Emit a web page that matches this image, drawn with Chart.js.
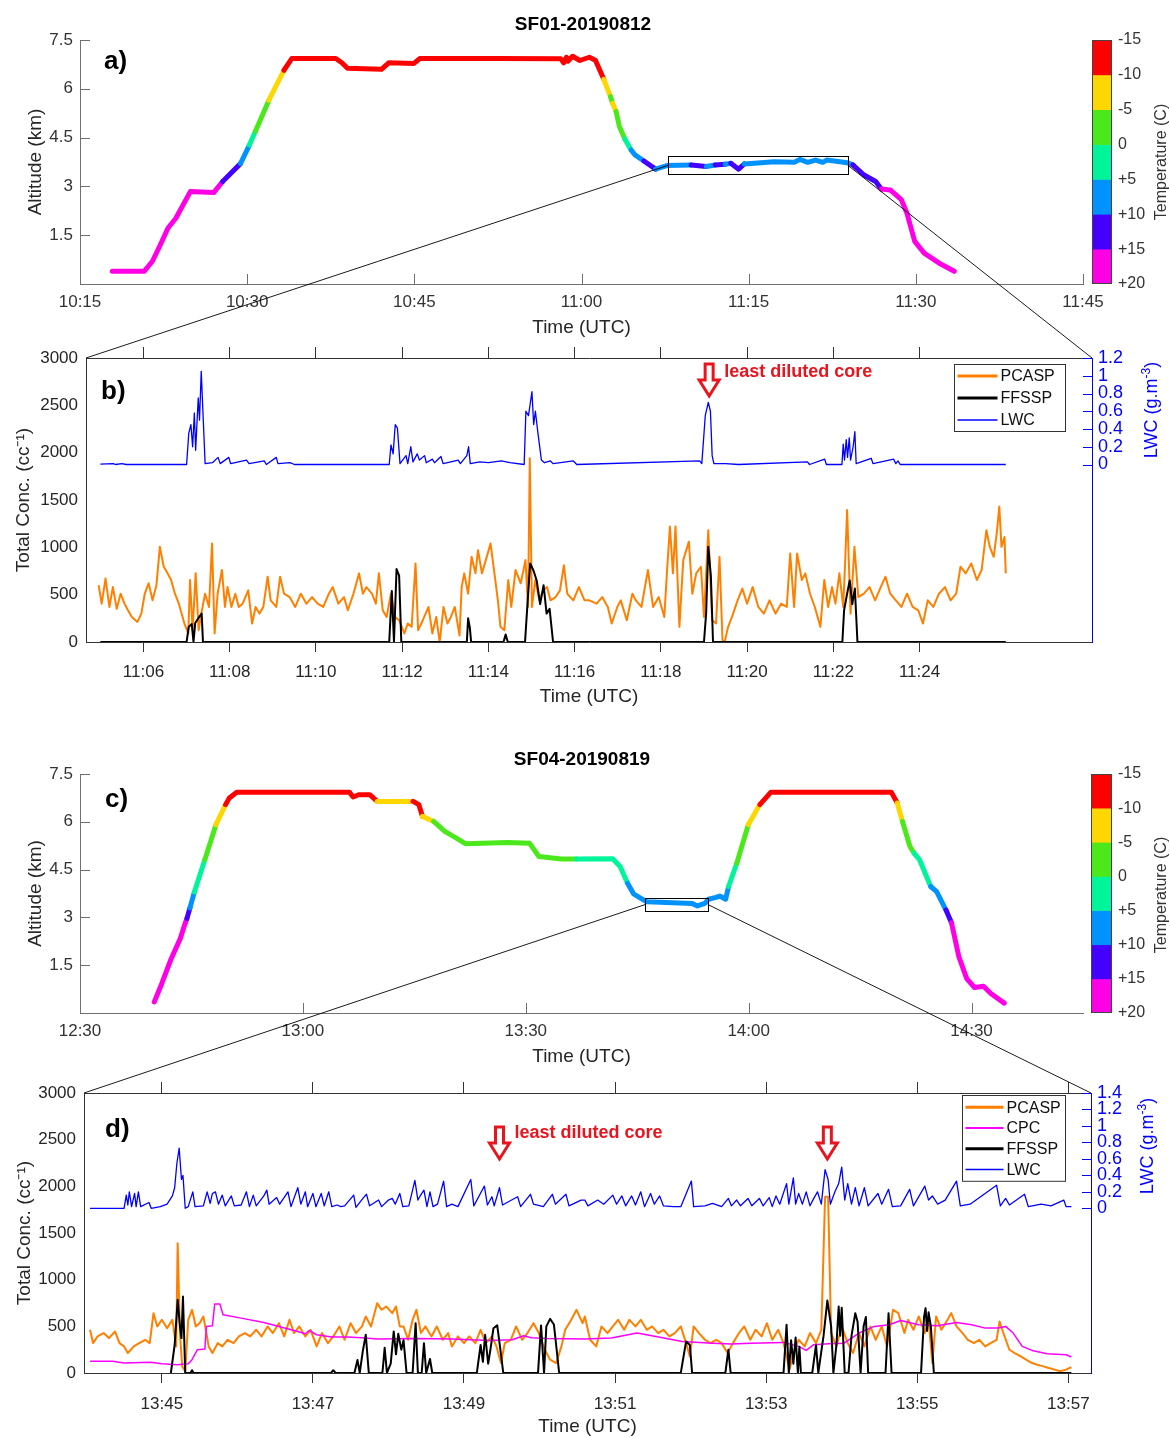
<!DOCTYPE html>
<html>
<head>
<meta charset="utf-8">
<script src="https://cdn.jsdelivr.net/npm/chart.js@4.4.1/dist/chart.umd.min.js"></script>
<style>
body { margin:0; background:#fff; width:1170px; height:1438px; position:relative; overflow:hidden; font-family:"Liberation Sans", Arial, sans-serif; }
canvas { position:absolute; }
.t { position:absolute; white-space:nowrap; transform:translate(-50%,-50%); }
.lbl { position:absolute; white-space:nowrap; font-weight:bold; font-size:26px; line-height:26px; color:#000; }
.rot { position:absolute; white-space:nowrap; transform:translate(-50%,-50%) rotate(-90deg); }
</style>
</head>
<body>
<canvas id="ca"></canvas>
<canvas id="cbA"></canvas>
<canvas id="cb"></canvas>
<canvas id="cc"></canvas>
<canvas id="cbC"></canvas>
<canvas id="cd"></canvas>
<canvas id="ov" width="1170" height="1438" style="left:0;top:0;pointer-events:none"></canvas>

<div class="t" style="left:583px;top:24px;font-weight:bold;font-size:19px">SF01-20190812</div>
<div class="t" style="left:582px;top:759px;font-weight:bold;font-size:19px">SF04-20190819</div>
<div class="lbl" style="left:104px;top:47px">a)</div>
<div class="lbl" style="left:101px;top:377px">b)</div>
<div class="lbl" style="left:105px;top:785px">c)</div>
<div class="lbl" style="left:105px;top:1115px">d)</div>
<div class="rot" style="left:1161px;top:162px;font-size:16px;color:#333">Temperature (C)</div>
<div class="rot" style="left:1161px;top:895px;font-size:16px;color:#333">Temperature (C)</div>
<div class="rot" style="left:1150px;top:410px;font-size:18px;color:#0000ff">LWC (g.m<sup style="font-size:12px">-3</sup>)</div>
<div class="rot" style="left:1146px;top:1146px;font-size:18px;color:#0000ff">LWC (g.m<sup style="font-size:12px">-3</sup>)</div>

<script>
// ---- data ----
// altitude profiles: [minutes after base hour, altitude km, temperature C]
const aProfile = [[17.9,0.39,19],[20.75,0.39,19],[21.5,0.70,19],[22.2,1.2,18],[22.9,1.72,18],[23.6,2.02,17],[24.9,2.84,16],[27.0,2.81,16],
  [27.8,3.15,12],[29.4,3.7,8],[30.2,4.27,3],[30.75,4.7,-2],[31.95,5.65,-7],[33.3,6.57,-12],
  [34.0,6.93,-13],[37.95,6.93,-13],[38.5,6.8,-13],[39.0,6.63,-13],[42.05,6.6,-13],[42.7,6.8,-13],[44.97,6.78,-13],[45.5,6.93,-13],
  [52.3,6.93,-13],[58.15,6.92,-13],[58.4,6.8,-13],[58.65,6.97,-13],[58.8,6.85,-13],[59.2,7.0,-13],[59.85,6.87,-13],[60.7,6.97,-13],
  [61.25,6.88,-12],[62.0,6.29,-8],[62.6,5.76,-3],[62.8,5.55,-6],[63.1,5.3,-2],[63.4,4.84,-1],[63.9,4.45,3],[64.45,4.12,7],[64.8,3.97,7],
  [65.6,3.78,12],[66.65,3.53,8],[67.65,3.64,8],[69.85,3.66,11],[71.2,3.61,8],[72.0,3.66,11],[72.9,3.68,8],[73.4,3.71,11],[74.1,3.53,11],
  [74.6,3.69,8],[77.3,3.76,8],[79.1,3.74,8],[79.6,3.83,8],[80.3,3.74,8],[81.0,3.81,8],[81.65,3.74,8],[82.0,3.81,8],[83.85,3.73,8],
  [84.35,3.66,12],[85.35,3.35,12],[86.4,3.15,12],[86.9,2.92,16],[87.7,2.89,16],[88.7,2.59,17],[89.2,2.18,17],[89.9,1.31,18],
  [90.75,0.95,19],[92.1,0.64,19],[93.45,0.39,19]];
const cProfile = [[40.0,0.35,19],[41.0,0.92,19],[42.2,1.66,18],[43.5,2.34,17],[44.0,2.71,16],[44.4,2.97,12],[44.8,3.3,8],[45.4,3.8,3],
  [46.8,4.81,-2],[48.3,5.91,-7],[49.6,6.54,-12],[50.1,6.75,-12],[51.1,6.93,-13],[66.25,6.93,-13],[66.76,6.78,-13],[67.5,6.85,-13],
  [69.0,6.85,-12],[70.0,6.64,-8],[74.84,6.64,-11],[75.6,6.54,-11],[76.1,6.17,-7],[77.6,6.01,-3],[79.1,5.70,-2],[80.66,5.49,-2],
  [81.92,5.31,-2],[87.5,5.35,-2],[90.5,5.33,-2],[91.76,4.91,-2],[94.8,4.83,-1],[96.8,4.83,2],[101.7,4.84,2],[102.7,4.6,4],
  [103.7,4.07,7],[104.5,3.74,8],[105.5,3.6,8],[106.3,3.49,8],[109.8,3.46,8],[112.35,3.44,8],[113.1,3.36,8],[114.1,3.44,8],
  [114.6,3.57,8],[115.6,3.63,8],[116.1,3.67,8],[116.9,3.57,8],[117.3,3.97,3],[118.4,4.7,-2],[119.95,5.91,-7],[121.5,6.54,-12],
  [123.0,6.93,-13],[139.2,6.93,-12],[140.0,6.59,-7],[140.7,6.01,-3],[141.7,5.23,-1],[142.25,5.02,2],[143.0,4.81,4],[144.5,3.97,7],
  [145.3,3.81,9],[146.56,3.23,12],[147.3,2.83,16],[148.3,1.76,17],[149.35,1.08,18],[150.4,0.8,19],[151.6,0.84,19],[152.6,0.61,19],[154.4,0.31,19]];
// zoom boxes [t0, t1, alt0, alt1]
const aZoom = [67.8, 83.9, 3.38, 3.92];
const cZoom = [106.1, 114.5, 3.21, 3.6];

// panel b: minutes after 11:00
const bPCASP = [[4.96,600],[5.03,405],[5.12,670],[5.21,370],[5.29,580],[5.38,350],[5.47,510],[5.56,405],[5.64,335],[5.73,265],[5.86,212],[5.95,300],
  [6.03,510],[6.12,620],[6.21,440],[6.30,600],[6.38,1005],[6.47,795],[6.56,725],[6.64,655],[6.73,510],[6.82,405],[6.95,195],[7.04,90],[7.08,655],
  [7.14,125],[7.21,725],[7.28,125],[7.34,300],[7.43,510],[7.52,370],[7.59,1040],[7.65,90],[7.72,510],[7.82,760],[7.89,370],[7.95,580],[8.04,370],
  [8.13,510],[8.21,370],[8.30,405],[8.43,545],[8.52,195],[8.60,370],[8.69,300],[8.78,370],[8.88,690],[8.95,440],[9.08,370],[9.17,690],[9.26,510],
  [9.39,475],[9.52,370],[9.65,510],[9.78,405],[9.91,475],[10.04,405],[10.17,370],[10.30,510],[10.39,580],[10.52,405],[10.65,475],[10.74,335],
  [10.87,510],[11.00,725],[11.09,510],[11.17,580],[11.30,510],[11.39,405],[11.46,725],[11.55,335],[11.64,265],[11.74,510],[11.83,265],[11.93,230],
  [12.05,90],[12.13,195],[12.22,160],[12.31,830],[12.37,125],[12.48,230],[12.61,370],[12.70,90],[12.79,265],[12.87,0],[12.96,370],[13.05,195],
  [13.13,265],[13.22,370],[13.33,70],[13.38,580],[13.44,725],[13.53,510],[13.61,900],[13.70,725],[13.76,970],[13.85,725],[13.94,865],[14.05,1040],
  [14.14,725],[14.22,440],[14.28,160],[14.37,125],[14.46,655],[14.53,370],[14.63,760],[14.75,620],[14.86,865],[14.92,370],[14.96,1940],[15.01,370],
  [15.09,655],[15.18,440],[15.27,545],[15.36,580],[15.44,440],[15.56,475],[15.66,545],[15.75,810],[15.83,510],[15.97,440],[16.10,580],[16.23,440],
  [16.34,440],[16.51,405],[16.64,475],[16.77,370],[16.86,195],[16.99,370],[17.07,440],[17.21,230],[17.34,510],[17.42,440],[17.55,370],[17.70,760],
  [17.82,370],[17.95,475],[18.08,265],[18.14,725],[18.21,1220],[18.28,725],[18.34,1220],[18.43,160],[18.52,865],[18.65,1060],[18.73,510],[18.82,725],
  [18.93,795],[19.00,265],[19.10,1180],[19.19,230],[19.28,195],[19.36,900],[19.43,20],[19.48,0],[19.56,160],[19.65,265],[19.78,440],[19.89,565],
  [20.00,405],[20.13,580],[20.26,370],[20.39,300],[20.52,440],[20.66,300],[20.79,405],[20.92,370],[21.00,935],[21.09,370],[21.16,935],[21.27,655],
  [21.35,725],[21.46,510],[21.57,370],[21.70,160],[21.79,655],[21.88,370],[21.97,580],[22.05,405],[22.14,725],[22.23,370],[22.27,795],[22.32,1395],
  [22.40,300],[22.49,1005],[22.58,475],[22.71,510],[22.84,580],[22.97,440],[23.10,580],[23.21,690],[23.32,510],[23.45,440],[23.58,370],[23.71,510],
  [23.84,370],[23.97,335],[24.08,195],[24.19,440],[24.32,370],[24.45,510],[24.59,580],[24.72,440],[24.85,510],[24.95,795],[25.07,725],[25.20,830],
  [25.33,655],[25.44,760],[25.55,1180],[25.63,1005],[25.72,900],[25.79,1145],[25.85,1430],[25.90,1005],[25.97,1110],[26.00,725]];
const bFFSSP = [[5.0,0],[7.0,0],[7.05,160],[7.12,190],[7.16,0],[7.2,200],[7.3,270],[7.35,300],[7.38,0],[11.7,0],[11.76,540],[11.81,0],
  [11.87,770],[11.93,700],[11.98,0],[13.5,0],[13.53,250],[13.57,150],[13.6,0],[14.35,0],[14.4,80],[14.45,0],[14.85,0],[14.92,500],[14.97,830],
  [15.05,750],[15.12,650],[15.2,400],[15.28,600],[15.35,300],[15.42,350],[15.5,0],[19.0,0],[19.05,300],[19.1,1005],[19.16,700],[19.21,0],
  [22.21,0],[22.25,335],[22.32,510],[22.38,650],[22.44,400],[22.5,565],[22.56,0],[26.0,0]];
const bLWC = [[5.0,0.005],[5.3,0.01],[5.35,0.0],[5.5,0.01],[5.6,0.0],[6.8,0.0],[7.0,0.0],[7.05,0.35],[7.1,0.45],[7.14,0.2],[7.18,0.58],
  [7.21,0.16],[7.27,0.75],[7.3,0.5],[7.34,1.05],[7.38,0.58],[7.43,0.01],[7.6,0.02],[7.73,0.08],[7.78,0.01],[7.98,0.08],[8.02,0.01],[8.39,0.05],
  [8.45,0.01],[8.8,0.04],[8.85,0.0],[9.08,0.08],[9.12,0.01],[9.4,0.02],[9.5,0.0],[11.7,0.0],[11.74,0.22],[11.79,0.12],[11.84,0.45],[11.89,0.41],
  [11.95,0.01],[12.09,0.1],[12.13,0.01],[12.2,0.2],[12.25,0.03],[12.35,0.12],[12.4,0.05],[12.52,0.1],[12.56,0.02],[12.7,0.06],[12.75,0.02],
  [12.9,0.09],[12.95,0.01],[13.13,0.03],[13.3,0.05],[13.35,0.01],[13.5,0.1],[13.54,0.2],[13.58,0.01],[13.8,0.03],[14.0,0.02],[14.3,0.04],
  [14.5,0.02],[14.83,0.0],[14.87,0.6],[14.93,0.55],[15.01,0.82],[15.05,0.45],[15.09,0.6],[15.15,0.35],[15.23,0.05],[15.3,0.02],[15.44,0.04],
  [15.5,0.01],[15.8,0.03],[15.97,0.04],[16.05,0.0],[18.9,0.04],[18.95,0.01],[19.03,0.55],[19.1,0.7],[19.15,0.6],[19.19,0.1],[19.23,0.01],
  [19.5,0.01],[19.8,0.0],[21.4,0.03],[21.45,0.0],[21.8,0.06],[21.84,0.0],[22.2,0.0],[22.23,0.23],[22.26,0.05],[22.3,0.28],[22.33,0.08],
  [22.37,0.3],[22.4,0.05],[22.46,0.2],[22.5,0.37],[22.53,0.01],[22.88,0.07],[22.92,0.01],[23.4,0.06],[23.45,0.01],[23.5,0.04],[23.55,0.0],[26.0,0.0]];

// panel d: minutes after 13:00
const dPCASP = [[44.05,463],[44.09,320],[44.15,392],[44.23,428],[44.30,374],[44.38,445],[44.44,320],[44.50,285],[44.55,214],[44.63,285],
  [44.70,320],[44.78,356],[44.84,320],[44.89,641],[44.94,499],[45.00,570],[45.07,481],[45.14,570],[45.19,285],[45.21,1390],[45.24,428],[45.27,71],
  [45.31,18],[45.35,570],[45.40,677],[45.45,499],[45.50,534],[45.55,606],[45.59,428],[45.62,285],[45.67,214],[45.74,320],[45.80,285],[45.87,356],
  [45.95,320],[46.02,392],[46.10,428],[46.17,392],[46.25,463],[46.32,392],[46.40,499],[46.47,428],[46.55,534],[46.62,392],[46.69,570],[46.75,428],
  [46.82,499],[46.90,392],[46.97,463],[47.05,285],[47.12,428],[47.20,320],[47.27,392],[47.35,499],[47.42,356],[47.50,534],[47.57,428],[47.65,499],
  [47.70,606],[47.77,499],[47.85,748],[47.91,677],[47.97,713],[48.05,641],[48.10,713],[48.15,499],[48.20,499],[48.26,356],[48.32,570],[48.37,677],
  [48.43,428],[48.49,499],[48.57,392],[48.64,499],[48.72,356],[48.79,428],[48.84,285],[48.92,392],[49.00,320],[49.07,392],[49.15,320],[49.22,463],
  [49.29,320],[49.37,392],[49.43,285],[49.49,107],[49.54,320],[49.62,356],[49.69,499],[49.77,356],[49.84,428],[49.92,534],[49.99,428],[50.07,249],
  [50.14,143],[50.22,107],[50.29,285],[50.34,463],[50.42,570],[50.49,677],[50.57,534],[50.60,606],[50.67,356],[50.75,285],[50.82,499],[50.90,428],
  [50.97,499],[51.04,570],[51.12,463],[51.19,570],[51.27,499],[51.34,570],[51.42,463],[51.49,499],[51.57,428],[51.64,463],[51.72,392],[51.79,428],
  [51.87,499],[51.94,320],[51.99,178],[52.04,499],[52.11,428],[52.19,356],[52.26,320],[52.34,356],[52.41,320],[52.49,214],[52.56,320],[52.64,428],
  [52.71,499],[52.79,356],[52.86,463],[52.94,392],[53.01,534],[53.08,356],[53.16,463],[53.23,320],[53.31,36],[53.36,214],[53.43,356],[53.51,285],
  [53.58,428],[53.66,320],[53.73,463],[53.78,1888],[53.82,1888],[53.86,428],[53.93,285],[54.00,499],[54.08,320],[54.15,214],[54.23,428],[54.30,285],
  [54.38,499],[54.45,356],[54.53,499],[54.60,285],[54.68,677],[54.75,641],[54.83,428],[54.88,570],[54.95,463],[55.02,606],[55.10,428],[55.15,570],
  [55.20,107],[55.25,606],[55.32,463],[55.40,570],[55.45,641],[55.52,499],[55.60,428],[55.67,356],[55.75,320],[55.82,356],[55.90,285],[55.97,320],
  [56.05,356],[56.09,552],[56.14,428],[56.22,249],[56.29,214],[56.37,178],[56.44,143],[56.52,107],[56.59,89],[56.67,71],[56.74,53],[56.82,36],
  [56.89,18],[56.97,36],[57.04,64]];
const dCPC = [[44.05,125],[44.35,125],[44.5,107],[44.85,114],[45.0,100],[45.2,89],[45.35,100],[45.4,143],[45.47,249],[45.57,256],[45.59,499],
  [45.67,506],[45.70,738],[45.77,738],[45.81,624],[46.05,588],[46.35,542],[46.55,499],[46.8,445],[46.9,420],[46.95,456],[47.05,410],[47.25,385],
  [47.45,385],[47.65,378],[47.85,363],[48.35,370],[48.84,363],[49.34,349],[49.64,356],[49.79,399],[49.89,378],[50.1,370],[50.6,363],[50.95,374],
  [51.29,428],[51.54,392],[51.89,338],[52.29,320],[52.54,310],[52.79,320],[53.23,328],[53.43,285],[53.53,242],[53.63,303],[53.83,313],[54.03,320],
  [54.23,428],[54.43,499],[54.63,517],[54.78,563],[55.02,517],[55.27,506],[55.52,542],[55.72,517],[55.9,481],[56.07,481],[56.17,499],[56.27,428],
  [56.39,285],[56.52,242],[56.72,207],[56.97,196],[57.04,171]];
const dFFSSP = [[45.12,0],[45.17,300],[45.21,784],[45.24,500],[45.26,374],[45.28,820],[45.31,0],[45.38,0],[45.4,30],[45.42,0],[47.24,0],[47.27,30],[47.3,0],
  [47.55,0],[47.59,140],[47.62,0],[47.66,231],[47.70,410],[47.74,0],[47.92,0],[47.95,270],[47.98,0],[48.03,100],[48.07,445],[48.10,200],
  [48.13,420],[48.17,250],[48.20,350],[48.24,0],[48.32,0],[48.36,534],[48.39,0],[48.44,0],[48.47,320],[48.50,0],[48.55,150],[48.58,0],
  [49.17,0],[49.22,300],[49.25,120],[49.28,410],[49.32,100],[49.35,250],[49.39,480],[49.44,510],[49.49,200],[49.52,0],[49.98,0],[50.02,510],
  [50.06,0],[50.09,500],[50.14,580],[50.19,520],[50.22,300],[50.26,0],[51.87,0],[51.94,338],[51.99,300],[52.02,0],[52.46,0],[52.50,250],
  [52.53,0],[53.23,0],[53.27,517],[53.30,0],[53.33,350],[53.36,100],[53.39,380],[53.42,0],[53.44,280],[53.46,0],[53.61,0],[53.66,300],
  [53.69,0],[53.76,400],[53.81,777],[53.86,500],[53.89,0],[53.93,300],[53.96,713],[53.98,400],[54.0,700],[54.04,0],[54.09,0],[54.13,400],
  [54.18,640],[54.21,550],[54.25,0],[54.29,500],[54.32,600],[54.35,0],[54.58,0],[54.62,640],[54.66,0],[55.05,0],[55.09,600],[55.11,695],
  [55.13,450],[55.15,650],[55.18,500],[55.22,0],[57.04,0]];
const dLWC = [[44.05,0],[44.5,0],[44.53,0.16],[44.55,0.04],[44.57,0.2],[44.6,0.02],[44.64,0.18],[44.66,0.02],[44.69,0.2],[44.72,0.02],
  [44.83,0.07],[44.86,0.0],[44.98,0.02],[45.07,0.05],[45.14,0.15],[45.17,0.25],[45.20,0.55],[45.23,0.73],[45.26,0.35],[45.28,0.4],[45.31,0.0],
  [45.35,0.02],[45.41,0.2],[45.44,0.02],[45.55,0.03],[45.60,0.2],[45.64,0.06],[45.67,0.18],[45.71,0.2],[45.75,0.05],[45.80,0.16],[45.84,0.03],
  [45.92,0.15],[45.96,0.03],[46.05,0.04],[46.12,0.2],[46.16,0.02],[46.21,0.16],[46.25,0.03],[46.35,0.15],[46.39,0.22],[46.42,0.05],[46.52,0.13],
  [46.56,0.05],[46.67,0.2],[46.71,0.02],[46.80,0.25],[46.84,0.05],[46.90,0.2],[46.93,0.02],[47.0,0.18],[47.04,0.02],[47.11,0.18],[47.15,0.03],
  [47.21,0.2],[47.25,0.02],[47.32,0.04],[47.37,0.02],[47.42,0.03],[47.54,0.16],[47.57,0.01],[47.67,0.13],[47.71,0.17],[47.75,0.03],[47.87,0.1],
  [47.91,0.02],[48.0,0.1],[48.05,0.12],[48.09,0.05],[48.15,0.18],[48.19,0.02],[48.27,0.03],[48.35,0.34],[48.39,0.1],[48.42,0.15],[48.47,0.22],
  [48.51,0.02],[48.55,0.2],[48.59,0.02],[48.65,0.05],[48.73,0.33],[48.77,0.02],[48.84,0.05],[48.92,0.02],[49.09,0.35],[49.13,0.03],[49.27,0.27],
  [49.31,0.04],[49.37,0.14],[49.40,0.03],[49.47,0.25],[49.51,0.04],[49.57,0.07],[49.71,0.14],[49.75,0.02],[49.88,0.17],[49.92,0.05],[50.05,0.02],
  [50.17,0.17],[50.21,0.05],[50.35,0.17],[50.39,0.03],[50.55,0.1],[50.60,0.1],[50.64,0.03],[50.77,0.1],[50.85,0.05],[50.97,0.16],[51.02,0.05],
  [51.09,0.15],[51.14,0.03],[51.22,0.15],[51.27,0.04],[51.34,0.2],[51.39,0.02],[51.47,0.18],[51.52,0.05],[51.59,0.15],[51.64,0.03],[51.77,0.02],
  [51.87,0.02],[52.01,0.33],[52.04,0.02],[52.19,0.03],[52.29,0.06],[52.41,0.02],[52.50,0.12],[52.54,0.03],[52.61,0.1],[52.66,0.03],[52.76,0.12],
  [52.81,0.03],[52.91,0.12],[52.96,0.03],[53.04,0.13],[53.08,0.02],[53.13,0.15],[53.18,0.05],[53.27,0.3],[53.30,0.05],[53.36,0.37],[53.39,0.05],
  [53.43,0.18],[53.48,0.05],[53.53,0.2],[53.58,0.03],[53.63,0.12],[53.68,0.2],[53.73,0.05],[53.78,0.47],[53.82,0.35],[53.85,0.05],[53.91,0.2],
  [53.96,0.3],[54.0,0.5],[54.04,0.1],[54.08,0.3],[54.13,0.05],[54.18,0.25],[54.23,0.03],[54.30,0.25],[54.35,0.03],[54.48,0.18],[54.53,0.05],
  [54.62,0.23],[54.67,0.02],[54.78,0.03],[54.90,0.23],[54.95,0.03],[55.10,0.27],[55.15,0.1],[55.20,0.15],[55.27,0.05],[55.37,0.1],[55.52,0.33],
  [55.57,0.03],[55.70,0.05],[56.05,0.28],[56.10,0.03],[56.17,0.12],[56.22,0.04],[56.42,0.17],[56.47,0.02],[56.64,0.05],[56.77,0.03],[56.94,0.1],
  [56.97,0.02],[57.04,0.02]];

// annotation times (least diluted core)
const bCore = [19.12];
const dCore = [49.47, 53.81];

// ticks
const aTicks = [15, 30, 45, 60, 75, 90, 105];
const cTicks = [30, 60, 90, 120, 150];
const bTicks = [6, 8, 10, 12, 14, 16, 18, 20, 22, 24];
const dTicks = [45, 47, 49, 51, 53, 55, 57];
const altTicks = [1.5, 3, 4.5, 6, 7.5];
const concTicks = [0, 500, 1000, 1500, 2000, 2500, 3000];
const lwcTicksB = [0, 0.2, 0.4, 0.6, 0.8, 1, 1.2];
const lwcTicksD = [0, 0.2, 0.4, 0.6, 0.8, 1, 1.2, 1.4];
const tempEdges = [-15, -10, -5, 0, 5, 10, 15];
const tempTicks = [-15, -10, -5, 0, 5, 10, 15, 20];
const tempColors = ['#ff0000', '#ffd700', '#4be81c', '#00f59b', '#0092ff', '#4400ff', '#ff00e6'];

// ---- helpers ----
const FONT = '"Liberation Sans", Arial, sans-serif';
const TXT = '#262626';
const AX = '#707070';
const BLUE = '#0000ff';
const RED = '#e8141e';

function tempColor(t) {
  let i = Math.floor((t + 15) / 5);
  i = Math.max(0, Math.min(6, i));
  return tempColors[i];
}
const hm = base => v => {
  const tot = Math.round(base * 60 + v);
  return Math.floor(tot / 60) + ':' + String(tot % 60).padStart(2, '0');
};
const fix = (w, h) => s => {
  if (w != null) s.width = w;
  if (h != null) s.height = h;
  s.paddingLeft = s.paddingRight = s.paddingTop = s.paddingBottom = 0;
};
const setTicks = arr => s => { s.ticks = arr.map(v => ({ value: v })); };
const xy = rows => rows.map(r => ({ x: r[0], y: r[1] }));

const POS = {
  ca: [0, 30, 1110, 315], cbA: [1085, 30, 85, 270],
  cb: [0, 340, 1170, 370],
  cc: [0, 764, 1110, 310], cbC: [1084, 764, 86, 264],
  cd: [0, 1074, 1170, 364]
};
for (const id in POS) {
  const c = document.getElementById(id), p = POS[id];
  c.style.left = p[0] + 'px'; c.style.top = p[1] + 'px';
  c.width = p[2]; c.height = p[3];
}

// ---- plugins ----
const inTicks = {
  id: 'inTicks',
  afterDraw(chart) {
    const { ctx, chartArea: ca, scales: { x, y } } = chart;
    ctx.save();
    ctx.strokeStyle = AX; ctx.lineWidth = 1;
    x.ticks.forEach(t => {
      const px = Math.round(x.getPixelForValue(t.value)) + 0.5;
      ctx.beginPath(); ctx.moveTo(px, ca.bottom); ctx.lineTo(px, ca.bottom - 10); ctx.stroke();
    });
    y.ticks.forEach(t => {
      const py = Math.round(y.getPixelForValue(t.value)) + 0.5;
      ctx.beginPath(); ctx.moveTo(ca.left, py); ctx.lineTo(ca.left + 10, py); ctx.stroke();
    });
    ctx.restore();
  }
};
const zoomBox = {
  id: 'zoomBox',
  afterDatasetsDraw(chart, args, o) {
    const { ctx, scales: { x, y } } = chart;
    const b = o.box;
    const x0 = Math.round(x.getPixelForValue(b[0])) + 0.5, x1 = Math.round(x.getPixelForValue(b[1])) + 0.5;
    const y0 = Math.round(y.getPixelForValue(b[3])) + 0.5, y1 = Math.round(y.getPixelForValue(b[2])) + 0.5;
    ctx.save(); ctx.strokeStyle = '#000'; ctx.lineWidth = 1;
    ctx.strokeRect(x0, y0, x1 - x0, y1 - y0);
    ctx.restore();
  }
};
const rightTicks = {
  id: 'rightTicks',
  afterDraw(chart) {
    const s = chart.scales.y1, { ctx, chartArea: ca } = chart;
    ctx.save(); ctx.strokeStyle = BLUE; ctx.lineWidth = 1;
    s.ticks.forEach(t => {
      const py = Math.round(s.getPixelForValue(t.value)) + 0.5;
      ctx.beginPath(); ctx.moveTo(ca.right - 9, py); ctx.lineTo(ca.right, py); ctx.stroke();
    });
    ctx.restore();
  }
};
const boxLegend = {
  id: 'boxLegend',
  afterDraw(chart, args, o) {
    const { ctx, chartArea: ca } = chart;
    const ds = chart.data.datasets;
    const x0 = Math.round(ca.right - o.right - o.width) + 0.5, y0 = Math.round(ca.top + o.top) + 0.5;
    const h = ds.length * o.rowH + 2 * o.pad;
    ctx.save();
    ctx.fillStyle = '#fff'; ctx.fillRect(x0, y0, o.width, h);
    ctx.strokeStyle = '#333'; ctx.lineWidth = 1; ctx.strokeRect(x0, y0, o.width, h);
    ctx.font = '16px ' + FONT; ctx.textBaseline = 'middle';
    ds.forEach((d, i) => {
      const cy = y0 + o.pad + o.rowH * (i + 0.5);
      ctx.strokeStyle = d.borderColor; ctx.lineWidth = d.legendWidth;
      ctx.beginPath(); ctx.moveTo(x0 + 3, cy); ctx.lineTo(x0 + 3 + o.lineLen, cy); ctx.stroke();
      ctx.fillStyle = '#111';
      ctx.fillText(d.label, x0 + o.lineLen + 6, cy + 1);
    });
    ctx.restore();
  }
};
const coreArrows = {
  id: 'coreArrows',
  afterDraw(chart, args, o) {
    const { ctx, chartArea: ca, scales: { x } } = chart;
    ctx.save();
    o.times.forEach((t, i) => {
      const cx = x.getPixelForValue(t), y0 = ca.top + o.dy;
      ctx.beginPath();
      ctx.moveTo(cx - 4, y0); ctx.lineTo(cx + 4, y0); ctx.lineTo(cx + 4, y0 + 16); ctx.lineTo(cx + 10, y0 + 16);
      ctx.lineTo(cx, y0 + 32); ctx.lineTo(cx - 10, y0 + 16); ctx.lineTo(cx - 4, y0 + 16); ctx.closePath();
      ctx.fillStyle = '#fff'; ctx.fill();
      ctx.strokeStyle = RED; ctx.lineWidth = 3; ctx.lineJoin = 'miter'; ctx.stroke();
      if (i === 0) {
        ctx.fillStyle = RED; ctx.font = 'bold 18px ' + FONT; ctx.textBaseline = 'middle';
        ctx.fillText('least diluted core', cx + 15, y0 + o.textDy);
      }
    });
    ctx.restore();
  }
};
const cbBorder = {
  id: 'cbBorder',
  afterDraw(chart) {
    const { ctx, chartArea: ca } = chart;
    ctx.save(); ctx.strokeStyle = '#444'; ctx.lineWidth = 1;
    ctx.strokeRect(Math.round(ca.left) + 0.5, Math.round(ca.top) + 0.5, Math.round(ca.right - ca.left) - 1, Math.round(ca.bottom - ca.top) - 1);
    ctx.restore();
  }
};

// ---- charts ----
function profileChart(id, rows, base, xmin, xmax, xticks, box, titlePad) {
  return new Chart(document.getElementById(id), {
    type: 'line',
    data: { datasets: [{
      data: xy(rows), borderWidth: 5, borderColor: tempColor(rows[0][2]),
      borderCapStyle: 'round', borderJoinStyle: 'round', pointRadius: 0, tension: 0,
      segment: { borderColor: c => tempColor(rows[c.p0DataIndex][2]) }
    }] },
    options: {
      responsive: false, animation: false, events: [],
      layout: { padding: { top: 10, right: 27, left: 0, bottom: 0 } },
      plugins: { legend: { display: false }, tooltip: { enabled: false }, zoomBox: { box } },
      scales: {
        x: { type: 'linear', min: xmin, max: xmax, afterBuildTicks: setTicks(xticks), afterFit: fix(null, 61),
          ticks: { callback: hm(base), color: '#333', font: { size: 17, family: FONT }, padding: 8, maxRotation: 0, autoSkip: false },
          grid: { display: false, drawTicks: false }, border: { color: AX },
          title: { display: true, text: 'Time (UTC)', color: TXT, font: { size: 19, family: FONT }, padding: { top: 0, bottom: titlePad } } },
        y: { type: 'linear', min: 0, max: 7.5, afterBuildTicks: setTicks(altTicks), afterFit: fix(80),
          ticks: { callback: v => String(v), color: '#333', font: { size: 17, family: FONT }, padding: 7 },
          grid: { display: false, drawTicks: false }, border: { color: AX },
          title: { display: true, text: 'Altitude (km)', color: TXT, font: { size: 19, family: FONT }, padding: { top: 24, bottom: 0 } } }
      }
    },
    plugins: [inTicks, zoomBox]
  });
}

function colorbar(id, padBottom) {
  return new Chart(document.getElementById(id), {
    type: 'bar',
    data: { labels: ['T'], datasets: tempEdges.map((lo, i) => ({
      data: [[lo, lo + 5]], backgroundColor: tempColors[i], borderWidth: 0,
      grouped: false, categoryPercentage: 1, barPercentage: 1 })) },
    options: {
      responsive: false, animation: false, events: [],
      layout: { padding: { left: 7, top: 10, bottom: padBottom, right: 0 } },
      plugins: { legend: { display: false }, tooltip: { enabled: false } },
      scales: {
        x: { display: false },
        y: { position: 'right', min: -15, max: 20, reverse: true, afterBuildTicks: setTicks(tempTicks), afterFit: fix(58),
          ticks: { callback: v => (v > 0 ? '+' + v : String(v)), color: '#333', font: { size: 16, family: FONT }, padding: 6 },
          grid: { display: false, drawTicks: false }, border: { display: false } }
      }
    },
    plugins: [cbBorder]
  });
}

function concChart(id, sets, base, xmin, xmax, xticks, lwcMax, lwcTicks, d) {
  return new Chart(document.getElementById(id), {
    type: 'line',
    data: { datasets: sets.map(s => ({
      label: s.label, data: xy(s.rows), borderColor: s.color, borderWidth: s.width, legendWidth: s.lw,
      yAxisID: s.axis, order: s.order, pointRadius: 0, tension: 0, borderJoinStyle: 'round' })) },
    options: {
      responsive: false, animation: false, events: [],
      layout: { padding: 0 },
      plugins: { legend: { display: false }, tooltip: { enabled: false },
        boxLegend: d.legend, coreArrows: d.arrows },
      scales: {
        x: { type: 'linear', position: 'bottom', min: xmin, max: xmax, afterBuildTicks: setTicks(xticks), afterFit: fix(null, d.botH),
          ticks: { callback: hm(base), color: TXT, font: { size: 17, family: FONT }, padding: d.xPad, maxRotation: 0, autoSkip: false },
          grid: { drawOnChartArea: false, drawTicks: true, tickLength: 10, color: '#333' }, border: { color: '#333' },
          title: { display: true, text: 'Time (UTC)', color: TXT, font: { size: 19, family: FONT }, padding: { top: 0, bottom: d.titleBot } } },
        x2: { type: 'linear', position: 'top', min: xmin, max: xmax, afterBuildTicks: setTicks(xticks), afterFit: fix(null, d.topH),
          ticks: { display: false }, grid: { drawOnChartArea: false, drawTicks: true, tickLength: 11, color: '#333' }, border: { color: '#333' } },
        y: { type: 'linear', position: 'left', min: 0, max: 3000, afterBuildTicks: setTicks(concTicks), afterFit: fix(d.yW),
          ticks: { callback: v => String(v), color: TXT, font: { size: 17, family: FONT }, padding: 8 },
          grid: { drawOnChartArea: false, drawTicks: false }, border: { color: '#333' },
          title: { display: true, text: 'Total Conc. (cc\u207B\u00B9)', color: TXT, font: { size: 19, family: FONT }, padding: { top: d.titleLeft, bottom: 0 } } },
        y1: { type: 'linear', position: 'right', min: -2, max: lwcMax, afterBuildTicks: setTicks(lwcTicks), afterFit: fix(d.y1W),
          ticks: { callback: v => String(Math.round(v * 10) / 10), color: BLUE, font: { size: 18, family: FONT }, padding: 6 },
          grid: { drawOnChartArea: false, drawTicks: false }, border: { color: BLUE } }
      }
    },
    plugins: [rightTicks, boxLegend, coreArrows]
  });
}

const chartA = profileChart('ca', aProfile, 10, 15, 105, aTicks, aZoom, 6);
colorbar('cbA', 16);
const chartC = profileChart('cc', cProfile, 12, 30, 165, cTicks, cZoom, 6);
colorbar('cbC', 15);

const chartB = concChart('cb', [
  { label: 'PCASP', rows: bPCASP, color: '#ff8000', width: 2, lw: 3, axis: 'y', order: 3 },
  { label: 'FFSSP', rows: bFFSSP, color: '#000000', width: 2, lw: 3, axis: 'y', order: 2 },
  { label: 'LWC', rows: bLWC, color: BLUE, width: 1.3, lw: 1.5, axis: 'y1', order: 1 }
], 11, 4.667, 28, bTicks, 1.2, lwcTicksB, {
  yW: 86, y1W: 78, topH: 18, botH: 68, xPad: 10, titleBot: 2, titleLeft: 12,
  legend: { right: 27, top: 6, width: 111, rowH: 22, pad: 0.5, lineLen: 40 },
  arrows: { times: bCore, dy: 6, textDy: 8 }
});

const chartD = concChart('cd', [
  { label: 'PCASP', rows: dPCASP, color: '#ff8000', width: 2, lw: 3, axis: 'y', order: 4 },
  { label: 'CPC', rows: dCPC, color: '#ff00ff', width: 1.5, lw: 2, axis: 'y', order: 3 },
  { label: 'FFSSP', rows: dFFSSP, color: '#000000', width: 2, lw: 3, axis: 'y', order: 2 },
  { label: 'LWC', rows: dLWC, color: BLUE, width: 1.3, lw: 1.5, axis: 'y1', order: 1 }
], 13, 43.97, 57.3, dTicks, 1.4, lwcTicksD, {
  yW: 84, y1W: 79, topH: 19, botH: 65, xPad: 11, titleBot: 0, titleLeft: 13,
  legend: { right: 26, top: 2, width: 103, rowH: 20.7, pad: 1.5, lineLen: 38 },
  arrows: { times: dCore, dy: 34, textDy: 6 }
});

// ---- zoom connector lines ----
const oc = document.getElementById('ov').getContext('2d');
function connect(src, srcPos, box, dst, dstPos) {
  const xs = src.scales.x, ys = src.scales.y;
  const ym = srcPos[1] + ys.getPixelForValue((box[2] + box[3]) / 2);
  const xl = srcPos[0] + xs.getPixelForValue(box[0]), xr = srcPos[0] + xs.getPixelForValue(box[1]);
  const ca = dst.chartArea;
  oc.beginPath();
  oc.moveTo(xl, ym); oc.lineTo(dstPos[0] + ca.left, dstPos[1] + ca.top);
  oc.moveTo(xr, ym); oc.lineTo(dstPos[0] + ca.right, dstPos[1] + ca.top);
  oc.stroke();
}
oc.strokeStyle = '#000'; oc.lineWidth = 0.9;
connect(chartA, POS.ca, aZoom, chartB, POS.cb);
connect(chartC, POS.cc, cZoom, chartD, POS.cd);
</script>
</body>
</html>
